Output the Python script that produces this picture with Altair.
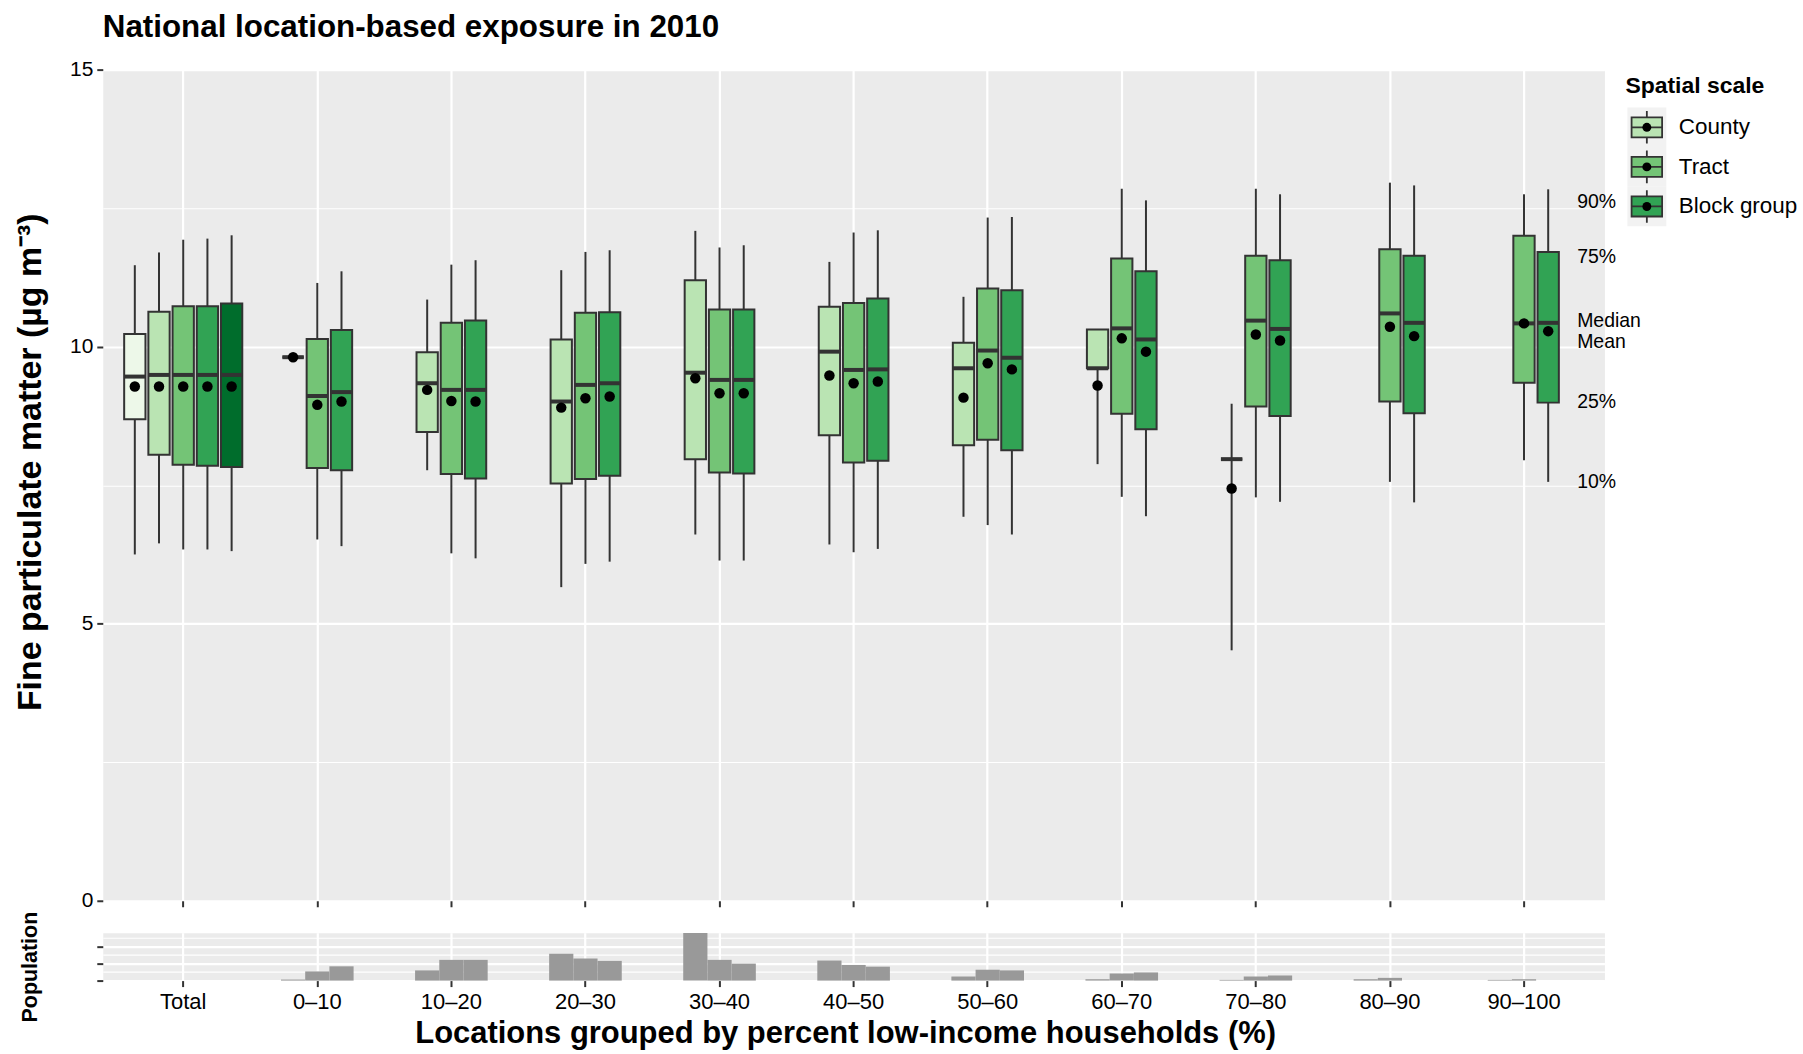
import altair as alt
import pandas as pd

# ---- categories -------------------------------------------------------------
GROUPS = ["Total", "0–10", "10–20", "20–30", "30–40", "40–50",
          "50–60", "60–70", "70–80", "80–90", "90–100"]
SCALES = ["State", "County", "Tract", "Block group", "Block"]
SCALE_COLORS = ["#edf8e9", "#bae4b3", "#74c476", "#31a354", "#006d2c"]
LEGEND_SCALES = ["County", "Tract", "Block group"]

# ---- box statistics (fine particulate matter, µg m-3) -----------------------
box_group = ["Total"] * 5 + ["0–10"] * 3 + ["10–20"] * 3 + ["20–30"] * 3 + \
            ["30–40"] * 3 + ["40–50"] * 3 + ["50–60"] * 3 + ["60–70"] * 3 + \
            ["70–80"] * 3 + ["80–90"] * 2 + ["90–100"] * 2
box_scale = SCALES + ["County", "Tract", "Block group"] * 8 + \
            ["Tract", "Block group"] * 2
p10 = [6.25, 6.45, 6.34, 6.34, 6.31,
       9.81, 6.52, 6.40,
       7.77, 6.27, 6.18,
       5.66, 6.08, 6.12,
       6.61, 6.14, 6.14,
       6.43, 6.29, 6.35,
       6.93, 6.78, 6.61,
       7.88, 7.29, 6.94,
       4.52, 7.28, 7.20,
       7.56, 7.19,
       7.95, 7.56]
p25 = [8.69, 8.05, 7.87, 7.85, 7.83,
       9.81, 7.81, 7.77,
       8.46, 7.70, 7.62,
       7.53, 7.61, 7.67,
       7.97, 7.73, 7.71,
       8.40, 7.91, 7.94,
       8.22, 8.32, 8.13,
       9.61, 8.79, 8.51,
       7.97, 8.92, 8.75,
       9.01, 8.80,
       9.35, 8.99]
p50 = [9.46, 9.49, 9.49, 9.49, 9.49,
       9.81, 9.11, 9.18,
       9.34, 9.22, 9.22,
       9.01, 9.31, 9.34,
       9.53, 9.40, 9.40,
       9.91, 9.58, 9.59,
       9.61, 9.93, 9.80,
       9.61, 10.33, 10.13,
       7.97, 10.47, 10.32,
       10.60, 10.43,
       10.42, 10.43]
p75 = [10.23, 10.63, 10.73, 10.73, 10.78,
       9.81, 10.14, 10.30,
       9.90, 10.43, 10.47,
       10.13, 10.61, 10.62,
       11.20, 10.67, 10.67,
       10.72, 10.79, 10.87,
       10.07, 11.05, 11.02,
       10.31, 11.59, 11.36,
       7.97, 11.64, 11.56,
       11.76, 11.64,
       12.00, 11.71]
p90 = [11.47, 11.70, 11.93, 11.95, 12.01,
       9.81, 11.15, 11.36,
       10.85, 11.48, 11.56,
       11.38, 11.71, 11.74,
       12.09, 11.79, 11.83,
       11.53, 12.06, 12.10,
       10.90, 12.33, 12.34,
       10.31, 12.85, 12.64,
       8.97, 12.85, 12.75,
       12.96, 12.91,
       12.75, 12.84]
mean = [9.28, 9.28, 9.28, 9.28, 9.28,
        9.81, 8.95, 9.01,
        9.22, 9.02, 9.01,
        8.90, 9.07, 9.10,
        9.43, 9.16, 9.16,
        9.48, 9.34, 9.37,
        9.08, 9.70, 9.59,
        9.30, 10.15, 9.91,
        7.44, 10.22, 10.11,
        10.36, 10.19,
        10.42, 10.28]

# ---- population by group (millions) -----------------------------------------
pop_group = ["0–10"] * 3 + ["10–20"] * 3 + ["20–30"] * 3 + ["30–40"] * 3 + \
            ["40–50"] * 3 + ["50–60"] * 3 + ["60–70"] * 3 + ["70–80"] * 3 + \
            ["80–90"] * 2 + ["90–100"] * 2
pop_scale = ["County", "Tract", "Block group"] * 8 + ["County", "Tract"] * 2
pop_value = [3, 27, 42,
             30, 61, 61,
             79, 65, 58,
             140, 61, 50,
             59, 46, 41,
             12, 32, 30,
             4, 21, 24,
             2, 12, 15,
             4, 8,
             2, 4]

# ---- quantile annotation ---------------------------------------------------
ann_label = ["90%", "75%", "Median", "Mean", "25%", "10%"]
ann_value = [12.61, 11.62, 10.47, 10.08, 9.01, 7.56]

boxes = pd.DataFrame({"group": box_group, "scale": box_scale, "p10": p10,
                      "p25": p25, "p50": p50, "p75": p75, "p90": p90,
                      "mean": mean})
pops = pd.DataFrame({"group": pop_group, "scale": pop_scale, "pop": pop_value})
anns = pd.DataFrame({"label": ann_label, "value": ann_value,
                     "group": ["90–100"] * len(ann_label),
                     "scale": ["Block group"] * len(ann_label)})
legend_rows = pd.DataFrame({"scale": LEGEND_SCALES})
legend_title = pd.DataFrame({"t": ["Spatial scale"]})

INK = "#333333"
PANEL = "#ebebeb"
PANEL_W = 1505
MAIN_H = 833
POP_H = 48

fill_enc = alt.Fill("scale:N", scale=alt.Scale(domain=SCALES, range=SCALE_COLORS),
                    legend=None)
x_scale = alt.Scale(domain=GROUPS, paddingInner=0, paddingOuter=0.1)

major5 = "datum.value % 5 === 0"

# ---- main panel -------------------------------------------------------------
x_main = alt.X("group:N", scale=x_scale,
               axis=alt.Axis(title=None, labels=False, domain=False,
                             ticks=True, tickSize=6, tickWidth=2,
                             tickColor=INK, tickBand="center",
                             grid=True, gridColor="white", gridWidth=2.2))
xoff_box = alt.XOffset("scale:N",
                       scale=alt.Scale(domain=SCALES, paddingInner=0.12,
                                       paddingOuter=0.33))
y_scale = alt.Scale(domain=[0, 15], nice=False, zero=False)
y_axis = alt.Axis(values=[0, 2.5, 5, 7.5, 10, 12.5, 15],
                  labelExpr=f"{major5} ? datum.label : ''",
                  title="Fine particulate matter (µg m⁻³)",
                  titleFontSize=34, titleFontWeight="bold", titleColor="black",
                  titleAngle=270, titleX=-72, titleY=393,
                  titleAlign="center", titleBaseline="middle",
                  domain=False, tickSize=6, tickWidth=2, tickColor=INK,
                  tickOpacity={"condition": {"test": major5, "value": 1}, "value": 0},
                  labelFontSize=21, labelColor="black", labelPadding=4,
                  grid=True, gridColor="white",
                  gridWidth={"condition": {"test": major5, "value": 2.2},
                             "value": 1.1})

base = alt.Chart(boxes).encode(x=x_main, xOffset=xoff_box)

whisk_hi = base.mark_rule(color=INK, strokeWidth=2).encode(
    y=alt.Y("p75:Q", scale=y_scale, axis=y_axis), y2="p90:Q")
whisk_lo = base.mark_rule(color=INK, strokeWidth=2).encode(
    y=alt.Y("p10:Q", scale=y_scale), y2="p25:Q")
box = base.mark_bar(stroke=INK, strokeWidth=2).encode(
    y=alt.Y("p25:Q", scale=y_scale), y2="p75:Q", fill=fill_enc)
median = base.mark_tick(color=INK, size=21.5, thickness=4, opacity=1).encode(
    y=alt.Y("p50:Q", scale=y_scale))
mean_dot = base.mark_circle(color="black", size=110, opacity=1).encode(
    y=alt.Y("mean:Q", scale=y_scale))
ann = alt.Chart(anns).mark_text(align="left", baseline="middle", dx=29,
                                fontSize=19.5, color="black").encode(
    x=alt.X("group:N", scale=x_scale), xOffset=xoff_box,
    y=alt.Y("value:Q", scale=y_scale), text="label:N")

main = alt.layer(whisk_hi, whisk_lo, box, median, mean_dot, ann).properties(
    width=PANEL_W, height=MAIN_H,
    view=alt.ViewBackground(fill=PANEL, stroke="transparent"),
    title=alt.TitleParams("National location-based exposure in 2010",
                          anchor="start", frame="group", fontSize=31.4,
                          fontWeight="bold", color="black", offset=15.5))

# ---- population panel -------------------------------------------------------
major50 = "datum.value % 50 === 0"
pop = alt.Chart(pops).mark_bar(color="#999999").encode(
    x=alt.X("group:N", scale=x_scale,
            axis=alt.Axis(title="Locations grouped by percent low-income households (%)",
                          titleFontSize=31, titleFontWeight="bold",
                          titleColor="black", titlePadding=6,
                          titleX=744, titleAlign="center",
                          labelFontSize=22, labelColor="black", labelPadding=5,
                          labelAngle=0, domain=False, tickSize=6, tickWidth=2,
                          tickColor=INK, tickBand="center",
                          grid=True, gridColor="white", gridWidth=2.2)),
    xOffset=alt.XOffset("scale:N", scale=alt.Scale(domain=SCALES, paddingInner=0,
                                                  paddingOuter=0.27)),
    y=alt.Y("pop:Q", scale=alt.Scale(domain=[0, 141], nice=False),
            axis=alt.Axis(values=[0, 25, 50, 75, 100, 125], labels=False,
                          title="Population", titleFontSize=21.5,
                          titleFontWeight="bold", titleColor="black",
                          titleAngle=270, titleX=-72, titleY=POP_H / 2 + 10,
                          titleAlign="center", titleBaseline="middle",
                          domain=False, tickSize=6, tickWidth=2, tickColor=INK,
                          tickOpacity={"condition": {"test": major50, "value": 1},
                                       "value": 0},
                          grid=True, gridColor="white",
                          gridWidth={"condition": {"test": major50, "value": 2.2},
                                     "value": 1.1})),
).properties(width=PANEL_W, height=POP_H,
             view=alt.ViewBackground(fill=PANEL, stroke="transparent"))

# ---- legend -----------------------------------------------------------------
KEY_PATH = ("M-0.9,-0.59H0.9V0.59H-0.9Z M-0.9,0H0.9 "
            "M0,-0.96V-0.59 M0,0.59V0.96")
leg_y = alt.Y("scale:N",
              scale=alt.Scale(domain=LEGEND_SCALES, range=[38, 157],
                              paddingInner=0, paddingOuter=0),
              axis=alt.Axis(orient="right", title=None, ticks=False,
                            domain=False, grid=False, labelPadding=12,
                            labelFontSize=22.5, labelColor="black"))
leg_bg = alt.Chart(legend_rows).mark_rect(color="#f2f2f2").encode(
    y=leg_y, x=alt.value(0), x2=alt.value(39))
leg_key = alt.Chart(legend_rows).mark_point(
    shape=KEY_PATH, size=1156, filled=True, opacity=1, stroke=INK,
    strokeWidth=1.8).encode(y=leg_y, x=alt.value(19.5), fill=fill_enc)
leg_dot = alt.Chart(legend_rows).mark_circle(color="black", size=80,
                                             opacity=1).encode(
    y=leg_y, x=alt.value(19.5))
leg_title = alt.Chart(legend_title).mark_text(
    align="left", baseline="middle", fontSize=23, fontWeight="bold",
    color="black").encode(text="t:N", x=alt.value(-2), y=alt.value(16))
legend = alt.layer(leg_bg, leg_key, leg_dot, leg_title).properties(
    width=39, height=160,
    view=alt.ViewBackground(fill="transparent", stroke="transparent"))

# main panel and legend on the first row, population strip below the panel
chart = alt.concat(main, legend, pop, columns=2, bounds="flush",
                   spacing={"row": 32, "column": 23}).resolve_scale(
    x="independent", y="independent", xOffset="independent", fill="independent"
).properties(
    padding={"left": 13, "top": 9.6, "right": 5, "bottom": 2}
).configure(font="Liberation Sans", background="white")

chart.save("out.html", embed_options={"renderer": "svg", "actions": False})
